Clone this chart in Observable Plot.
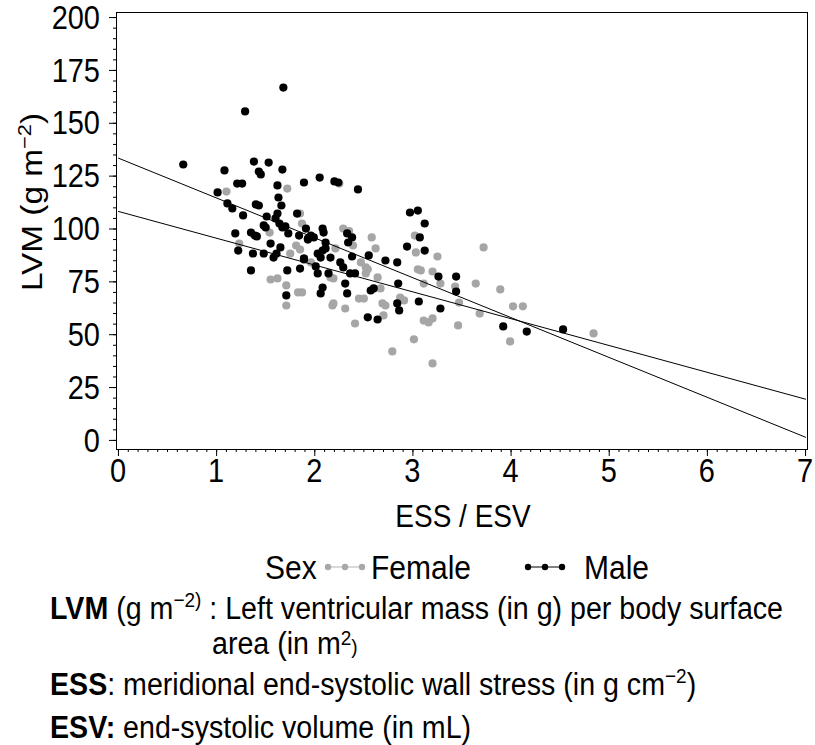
<!DOCTYPE html>
<html>
<head>
<meta charset="utf-8">
<script src="https://cdn.jsdelivr.net/npm/d3@7"></script>
<script src="https://cdn.jsdelivr.net/npm/@observablehq/plot@0.6"></script>
<style>
  body { margin: 0; background: #fff; font-family: "Liberation Sans", Arial, sans-serif; color: #000; }
  #wrap { position: relative; width: 815px; height: 745px; overflow: hidden; }
  #chart { position: absolute; left: 0; top: 0; }
  .t { position: absolute; white-space: nowrap; line-height: 1; transform: scaleY(1.1); }
  .cap { font-size: 28.6px; transform-origin: 0 24.2px; left: 50px; }
  .leg { font-size: 30px; transform-origin: 0 25.4px; top: 554px; }
  .sup { font-size: 19px; position: relative; top: -11px; }
  .sup2 { font-size: 19px; position: relative; top: -8px; }
  .sm { font-size: 19px; }
  .sym { position: absolute; top: 561px; }
</style>
</head>
<body>
<div id="wrap">
  <div id="chart"></div>
  <div class="t leg" style="left:265px">Sex</div>
  <svg class="sym" style="left:322px" width="46" height="12"><line x1="4" x2="42" y1="6" y2="6" stroke="#b4b4b4" stroke-width="1"/><circle cx="6" cy="6" r="3.2" fill="#a8a8a8"/><circle cx="23" cy="6" r="3.2" fill="#a8a8a8"/><circle cx="40" cy="6" r="3.2" fill="#a8a8a8"/></svg>
  <div class="t leg" style="left:371px">Female</div>
  <svg class="sym" style="left:522px" width="46" height="12"><line x1="4" x2="42" y1="6" y2="6" stroke="#000" stroke-width="1"/><circle cx="6" cy="6" r="3.2" fill="#000"/><circle cx="23" cy="6" r="3.2" fill="#000"/><circle cx="40" cy="6" r="3.2" fill="#000"/></svg>
  <div class="t leg" style="left:584px">Male</div>
  <div class="t cap" style="top:595px"><b>LVM</b> (g m<span class="sup">−2)</span> : Left ventricular mass (in g) per body surface</div>
  <div class="t cap" style="top:630px; left:212px">area (in m<span class="sup2">2</span><span class="sm">)</span></div>
  <div class="t cap" style="top:671px"><b>ESS</b>: meridional end-systolic wall stress (in g cm<span class="sup">−2</span>)</div>
  <div class="t cap" style="top:714px"><b>ESV:</b> end-systolic volume (in mL)</div>
</div>
<script>
// ---- data ----
const maleESS = [0.66,1.29,1.68,1.08,1.38,1.53,1.43,1.45,1.67,1.21,1.26,1.01,1.62,1.89,1.63,1.11,1.16,1.27,1.40,1.19,1.35,1.41,1.66,1.51,1.62,1.82,1.48,1.64,1.70,1.73,1.93,1.84,1.39,1.55,1.65,1.61,1.58,1.22,1.37,1.48,1.89,1.35,1.72,1.85,1.71,2.05,2.20,2.24,2.44,2.97,3.05,3.12,3.07,2.94,3.12,3.26,1.91,1.96,1.99,2.08,2.09,2.33,2.38,2.34,1.93,2.11,2.11,2.08,2.03,2.06,2.16,1.89,2.26,2.29,2.38,2.55,2.72,2.84,2.41,2.01,2.14,2.03,2.36,2.08,2.06,2.31,2.33,2.57,2.60,2.85,2.84,2.86,3.06,3.28,2.54,2.64,3.44,3.44,3.92,4.16,4.53,1.43,1.50,1.60,1.67];
const maleLVM = [130.5,155.6,166.9,127.7,131.9,131.4,127.2,125.8,128.1,121.5,121.5,117.3,120.6,122.0,114.9,112.1,109.7,106.4,111.6,97.9,98.3,96.5,111.1,105.9,107.3,107.3,101.7,102.6,101.2,97.9,95.5,96.9,96.9,93.1,91.3,88.4,86.5,89.8,88.4,88.4,85.6,80.4,80.4,81.3,68.6,124.3,122.5,122.0,118.7,107.8,108.7,102.6,96.0,91.7,89.8,77.5,100.2,96.9,96.0,100.2,98.3,97.9,96.0,93.6,95.0,93.6,90.8,89.8,88.4,86.5,86.5,86.1,84.2,81.8,87.0,87.5,85.1,84.2,79.0,82.3,79.0,79.0,79.0,72.3,69.5,74.2,69.5,70.9,71.9,74.2,64.8,61.5,65.7,62.4,58.2,57.2,77.5,70.4,53.9,51.5,52.5,111.1,100.7,105.0,100.7];

const femaleESS = [1.10,1.72,2.25,1.54,1.23,1.81,1.85,1.75,1.55,1.62,1.71,1.83,1.71,1.87,1.85,2.29,2.39,3.02,3.03,3.25,3.05,3.20,2.16,2.19,2.64,2.52,2.67,2.45,2.50,2.19,2.18,2.31,2.69,2.72,2.87,2.91,3.11,2.41,2.70,3.11,3.16,3.20,3.01,2.79,3.20,1.87,2.52,2.54,3.43,3.28,3.47,3.64,3.72,3.89,4.02,4.12,3.68,3.99,3.46,4.84,3.08,2.21,2.47,2.62,1.96,2.35,2.58];
const femaleLVM = [117.7,119.1,121.5,98.3,93.1,92.2,90.3,88.4,76.1,76.6,73.3,70.0,63.8,102.6,107.3,100.2,92.2,96.9,88.9,87.0,80.9,79.9,77.1,76.6,77.1,79.0,71.9,67.1,67.1,64.8,63.8,62.4,64.8,63.8,67.6,66.2,74.2,55.3,59.1,56.7,55.8,57.7,47.8,42.1,36.4,70.0,81.8,80.9,72.8,74.2,65.2,74.2,91.3,71.4,63.4,63.4,60.0,46.8,54.4,50.6,80.4,90.8,84.2,90.8,84.2,99.0,96.0];

// fitted lines (end points read at ESS/ESV = 0 and 7)
const fitX = [0, 7];
const fitSteep = [133.5, 1.5];
const fitShallow = [108.3, 19.5];

const yTicks = [0, 25, 50, 75, 100, 125, 150, 175, 200];
const xTicks = [0, 1, 2, 3, 4, 5, 6, 7];

// ---- build tables ----
const female = femaleESS.map((x, i) => ({x, y: femaleLVM[i]}));
const male = maleESS.map((x, i) => ({x, y: maleLVM[i]}));
const steep = fitX.map((x, i) => ({x, y: fitSteep[i]}));
const shallow = fitX.map((x, i) => ({x, y: fitShallow[i]}));

const W = 815, H = 545;
const chart = Plot.plot({
  width: W, height: H,
  marginLeft: 116, marginRight: 8, marginTop: 12, marginBottom: 96,
  style: {fontFamily: "'Liberation Sans', Arial, sans-serif", fontSize: "29px", background: "white", color: "black", overflow: "visible"},
  x: {domain: [-0.02, 7.02]},
  y: {domain: [-4.3, 202.4]},
  marks: [
    Plot.axisY({ticks: d3.range(0, 201, 5), tickSize: 3, tickFormat: () => "", label: null}),
    Plot.axisY({ticks: yTicks, tickSize: 7, tickFormat: () => "", label: null}),
    Plot.axisX({ticks: d3.range(0, 70.1, 1).map(d => d / 10), tickSize: 3, tickFormat: () => "", label: null}),
    Plot.axisX({ticks: xTicks, tickSize: 7, tickFormat: () => "", label: null}),
    Plot.dot(female, {x: "x", y: "y", r: 4.1, fill: "#a6a6a6", stroke: "none"}),
    Plot.dot(male, {x: "x", y: "y", r: 4.1, fill: "#000", stroke: "none"}),
    Plot.line(steep, {x: "x", y: "y", stroke: "#000", strokeWidth: 1}),
    Plot.line(shallow, {x: "x", y: "y", stroke: "#000", strokeWidth: 1}),
    Plot.frame({stroke: "#000", strokeWidth: 1})
  ]
});
document.getElementById("chart").appendChild(chart);

// tick labels placed with the plot's own scales (text slightly taller than wide, as in the reference)
const SY = 1.12;
const xs = chart.scale("x"), ys = chart.scale("y");
const svg = d3.select(chart);
const lab = svg.append("g").attr("font-size", 29).attr("fill", "#000");
yTicks.forEach(v => {
  lab.append("text")
    .attr("transform", `translate(100,${ys.apply(v)}) scale(1,${SY})`)
    .attr("text-anchor", "end").attr("dy", "0.36em")
    .text(String(v));
});
xTicks.forEach(v => {
  lab.append("text")
    .attr("transform", `translate(${xs.apply(v)},482) scale(1,${SY})`)
    .attr("text-anchor", "middle")
    .text(String(v));
});

// axis titles (with superscript)
const yl = svg.append("text")
  .attr("transform", "translate(42,202) rotate(-90) scale(1.15,1)")
  .attr("text-anchor", "middle")
  .attr("font-size", 29)
  .attr("fill", "#000");
yl.append("tspan").text("LVM (g m");
yl.append("tspan").attr("font-size", 19).attr("dy", -11).text("−2");
yl.append("tspan").attr("dy", 11).text(")");
svg.append("text")
  .attr("transform", `translate(463,527) scale(1,${SY})`)
  .attr("text-anchor", "middle")
  .attr("font-size", 28)
  .attr("fill", "#000")
  .text("ESS / ESV");
</script>
</body>
</html>
